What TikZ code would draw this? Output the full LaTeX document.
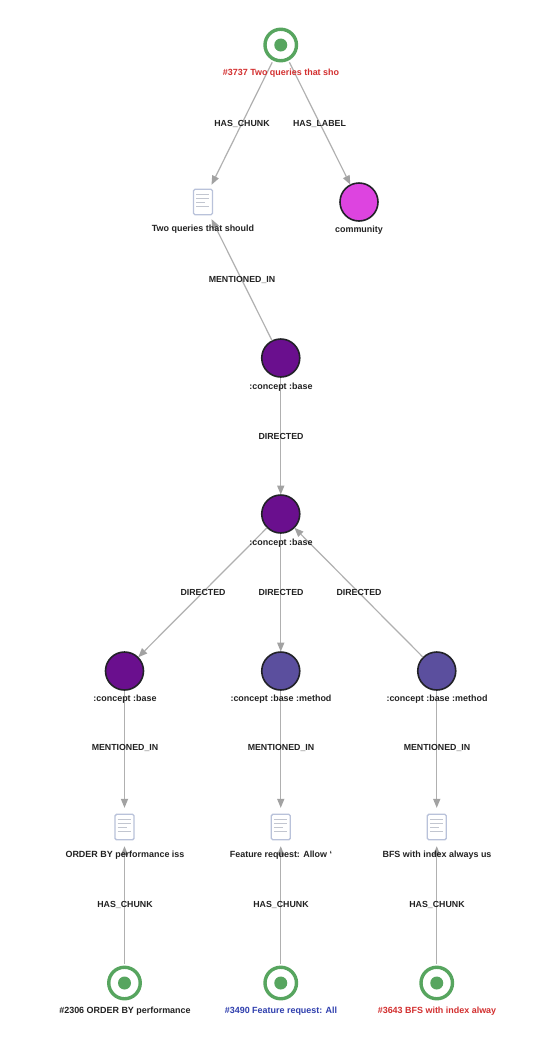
\documentclass[tikz,border=0pt]{standalone}
\usepackage{fontspec}
\setmainfont{Liberation Sans}
\usetikzlibrary{arrows.meta}
\definecolor{edgegray}{HTML}{B0B0B0}
\definecolor{tipgray}{HTML}{A2A2A2}
\definecolor{hubgreen}{HTML}{57A55F}
\definecolor{conceptpurple}{HTML}{6A0F8E}
\definecolor{methodblue}{HTML}{5B4F9E}
\definecolor{labelpink}{HTML}{DD44E0}
\definecolor{outlinedark}{HTML}{222228}
\definecolor{docblue}{HTML}{B9C2DA}
\definecolor{doclines}{HTML}{C2C6D0}
\definecolor{textred}{HTML}{D32F2F}
\definecolor{textblue}{HTML}{2F3FAE}
\definecolor{textdark}{HTML}{222222}
\tikzset{
  x=1pt,y=-1pt,
  conn/.style={draw=edgegray,line width=1.2pt,-{Triangle[length=9pt,width=7.5pt,color=tipgray,fill=tipgray,line width=0pt]}},
  ball/.style={circle,draw=outlinedark,line width=1.6pt,minimum size=38pt,inner sep=0pt,outer sep=0.5pt},
  concept/.style={ball,fill=conceptpurple},
  method/.style={ball,fill=methodblue},
  tagnode/.style={ball,fill=labelpink},
  hub/.style={circle,draw=hubgreen,line width=3.4pt,fill=white,minimum size=31.5pt,inner sep=0pt,outer sep=3.5pt},
  hubdot/.style={circle,fill=hubgreen,minimum size=13pt,inner sep=0pt,outer sep=0pt},
  docslot/.style={circle,minimum size=38.5pt,inner sep=0pt,outer sep=0pt},
  docpage/.style={rectangle,draw=docblue,fill=white,line width=1.4pt,rounded corners=1.5pt,minimum width=19pt,minimum height=25.5pt,inner sep=0pt},
  caption/.style={font=\bfseries\fontsize{8.95pt}{10pt}\selectfont,text=textdark,inner sep=0pt},
  rel/.style={font=\bfseries\fontsize{8.8pt}{10pt}\selectfont,text=textdark,inner sep=0pt},
  docicon/.pic={
    \node[docpage] (-page) at (0,0) {};
    \draw[doclines,line width=1pt] (-7,-8) -- (6,-8) (-7,-3.7) -- (6,-3.7) (-7,.4) -- (2,.4) (-7,4.2) -- (6,4.2);
  }
}
\begin{document}
\begin{tikzpicture}
\useasboundingbox (0,0) rectangle (548,1050);
\fill[white] (0,0) rectangle (548,1050);
% hubs
\node[hub] (h0) at (280.75,45) {};
\node[hubdot] (h0d) at (h0.center) {};
\node[hub] (h1) at (124.5,983) {};
\node[hubdot] (h1d) at (h1.center) {};
\node[hub] (h2) at (280.75,983) {};
\node[hubdot] (h2d) at (h2.center) {};
\node[hub] (h3) at (436.75,983) {};
\node[hubdot] (h3d) at (h3.center) {};
% documents
\node[docslot] (d0) at (203,202) {};
\node[docslot] (d1) at (124.5,827) {};
\node[docslot] (d2) at (280.75,827) {};
\node[docslot] (d3) at (436.75,827) {};
\pic (p0) at (d0.center) {docicon};
\pic (p1) at (d1.center) {docicon};
\pic (p2) at (d2.center) {docicon};
\pic (p3) at (d3.center) {docicon};
% balls
\node[tagnode] (t) at (359,202) {};
\node[concept] (c1) at (280.75,358) {};
\node[concept] (c2) at (280.75,514) {};
\node[concept] (c3) at (124.5,671) {};
\node[method] (m1) at (280.75,671) {};
\node[method] (m2) at (436.75,671) {};
% connectors
\draw[conn] (h0) -- (d0);
\draw[conn] (h0) -- (t);
\draw[conn] (c1) -- (d0);
\draw[conn] (c1) -- (c2);
\draw[conn] (c2) -- (c3);
\draw[conn] (c2) -- (m1);
\draw[conn] (m2) -- (c2);
\draw[conn] (c3) -- (d1);
\draw[conn] (m1) -- (d2);
\draw[conn] (m2) -- (d3);
\draw[conn] (h1) -- (d1);
\draw[conn] (h2) -- (d2);
\draw[conn] (h3) -- (d3);
% connector labels
\node[rel] (r1) at (242,123.5) {HAS\_CHUNK};
\node[rel] (r2) at (319.5,123.5) {HAS\_LABEL};
\node[rel] (r3) at (242,280) {MENTIONED\_IN};
\node[rel] (r4) at (281,436) {DIRECTED};
\node[rel] (r5) at (203,592) {DIRECTED};
\node[rel] (r6) at (281,592) {DIRECTED};
\node[rel] (r7) at (359,592) {DIRECTED};
\node[rel] (r8) at (125,748) {MENTIONED\_IN};
\node[rel] (r9) at (281,748) {MENTIONED\_IN};
\node[rel] (r10) at (437,748) {MENTIONED\_IN};
\node[rel] (r11) at (125,904.5) {HAS\_CHUNK};
\node[rel] (r12) at (281,904.5) {HAS\_CHUNK};
\node[rel] (r13) at (437,904.5) {HAS\_CHUNK};
% node captions
\node[caption,text=textred] (l0) at (281,73) {\#3737 Two queries that sho};
\node[caption] (l1) at (203,229) {Two queries that should};
\node[caption] (l2) at (359,230.5) {community};
\node[caption] (l3) at (281,387) {:concept :base};
\node[caption] (l4) at (281,543) {:concept :base};
\node[caption] (l5) at (125,699.5) {:concept :base};
\node[caption] (l6) at (281,699.5) {:concept :base :method};
\node[caption] (l7) at (437,699.5) {:concept :base :method};
\node[caption] (l8) at (125,855) {ORDER BY performance iss};
\node[caption] (l9) at (281,855) {Feature request: Allow `};
\node[caption] (l10) at (437,855) {BFS with index always us};
\node[caption] (l11) at (125,1011) {\#2306 ORDER BY performance};
\node[caption,text=textblue] (l12) at (281,1011) {\#3490 Feature request: All};
\node[caption,text=textred] (l13) at (437,1011) {\#3643 BFS with index alway};
\end{tikzpicture}
\end{document}
